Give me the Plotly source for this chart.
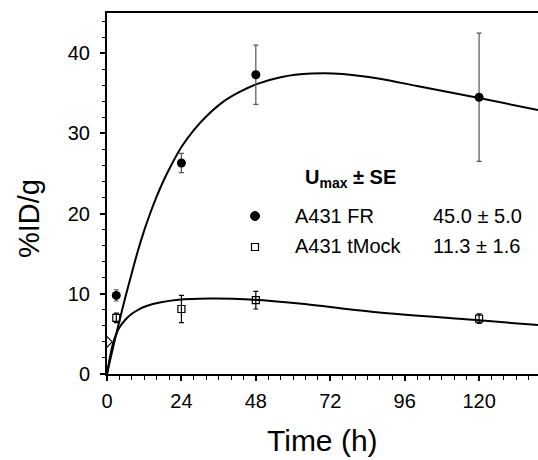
import plotly.graph_objects as go

# ---- data ----
fr_time = [3, 24, 48, 120]
fr_uptake = [9.8, 26.3, 37.3, 34.5]
fr_se = [0.7, 1.2, 3.7, 8.0]

mock_time = [3, 24, 48, 120]
mock_uptake = [7.0, 8.1, 9.2, 6.9]
mock_se = [0.6, 1.7, 1.1, 0.6]

blood_time = [0]
blood_uptake = [4.0]

fr_fit_time = [0, 2, 4, 6, 8, 10, 12, 14, 16, 18, 20, 24, 28, 32, 37, 42, 48, 56, 66, 76, 88, 100, 120, 139]
fr_fit_uptake = [0, 3.4, 6.6, 9.7, 12.6, 15.4, 17.9, 20.1, 22.1, 23.9, 25.5, 28.3, 30.4, 32.1, 33.8,
                 35.0, 36.1, 37.0, 37.45, 37.4, 36.8, 35.9, 34.4, 32.9]

mock_fit_time = [0, 1, 2, 3, 4, 6, 8, 10, 13, 17, 23, 33, 46, 62, 87, 118, 139]
mock_fit_uptake = [0, 2.2, 3.9, 5.0, 5.8, 6.8, 7.5, 8.0, 8.5, 8.9, 9.25, 9.4, 9.3, 8.8, 7.7, 6.75, 6.1]

x_ticks = [0, 24, 48, 72, 96, 120]
y_ticks = [0, 10, 20, 30, 40]

legend_names = ["A431 FR", "A431 tMock"]
legend_values = ["45.0 ± 5.0", "11.3 ± 1.6"]
legend_title = "<b>U<sub>max</sub> ± SE</b>"

FONT = "Liberation Sans, Arial, sans-serif"

# ---- layout geometry ----
W, H = 538, 460
L, R, T, B = 107, 0, 13, 86
PW, PH = W - L - R, H - T - B


def px_x(p):
    return (p - L) / PW


def px_y(p):
    return (H - B - p) / PH


fig = go.Figure()

fig.add_trace(go.Scatter(x=fr_fit_time, y=fr_fit_uptake, mode="lines",
                         line=dict(color="black", width=2, shape="spline", smoothing=0.8),
                         showlegend=False, hoverinfo="skip"))
fig.add_trace(go.Scatter(x=mock_fit_time, y=mock_fit_uptake, mode="lines",
                         line=dict(color="black", width=2, shape="spline", smoothing=0.8),
                         showlegend=False, hoverinfo="skip"))

fig.add_trace(go.Scatter(x=fr_time, y=fr_uptake, mode="markers",
                         marker=dict(symbol="circle", size=9, color="black"),
                         error_y=dict(type="data", array=fr_se, color="#555", thickness=1.2, width=2.5),
                         name=legend_names[0], showlegend=False))
fig.add_trace(go.Scatter(x=mock_time, y=mock_uptake, mode="markers",
                         marker=dict(symbol="square-open", size=7, color="black", line=dict(width=1.2)),
                         error_y=dict(type="data", array=mock_se, color="black", thickness=1.2, width=2.5),
                         name=legend_names[1], showlegend=False))
fig.add_trace(go.Scatter(x=blood_time, y=blood_uptake, mode="markers",
                         marker=dict(symbol="diamond-open", size=8, color="black", line=dict(width=1.2)),
                         showlegend=False))

axis_common = dict(showgrid=False, zeroline=False, showline=True, linecolor="black", linewidth=2,
                   ticks="outside", ticklen=5, tickwidth=1.5, tickcolor="black",
                   tickfont=dict(family=FONT, size=20, color="black"))

fig.update_xaxes(range=[0, 139], tickvals=x_ticks, ticktext=[str(v) for v in x_ticks],
                 mirror=True, ticklabelstandoff=3,
                 minor=dict(dtick=4, tick0=0, ticks="outside", ticklen=4, tickwidth=1.2, tickcolor="black"),
                 **axis_common)
fig.update_yaxes(range=[0, 45], tickvals=y_ticks, ticktext=[str(v) for v in y_ticks],
                 ticklabelstandoff=6,
                 minor=dict(dtick=2, tick0=0, ticks="outside", ticklen=3, tickwidth=1.2, tickcolor="black"),
                 **axis_common)

annotations = [
    dict(text="Time (h)", x=px_x(322), y=px_y(440), font=dict(size=30)),
    dict(text="%ID/g", x=px_x(29), y=px_y(219), font=dict(size=29), textangle=-90),
    dict(text=legend_title, x=px_x(303), y=px_y(178), xanchor="left", font=dict(size=20)),
    dict(text=legend_names[0], x=px_x(293), y=px_y(216), xanchor="left", font=dict(size=20)),
    dict(text=legend_values[0], x=px_x(431), y=px_y(216), xanchor="left", font=dict(size=20)),
    dict(text=legend_names[1], x=px_x(293), y=px_y(246), xanchor="left", font=dict(size=20)),
    dict(text=legend_values[1], x=px_x(431), y=px_y(246), xanchor="left", font=dict(size=20)),
]
for a in annotations:
    a.setdefault("xanchor", "center")
    a.update(xref="paper", yref="paper", yanchor="middle", showarrow=False)
    a["font"] = dict(family=FONT, color="black", **a["font"])

shapes = [
    dict(type="circle", xref="paper", yref="paper", xsizemode="pixel", ysizemode="pixel",
         xanchor=px_x(255), yanchor=px_y(216), x0=-4.5, x1=4.5, y0=-4.5, y1=4.5,
         fillcolor="black", line=dict(color="black", width=1)),
    dict(type="rect", xref="paper", yref="paper", xsizemode="pixel", ysizemode="pixel",
         xanchor=px_x(255), yanchor=px_y(247), x0=-3.5, x1=3.5, y0=-3.5, y1=3.5,
         fillcolor="white", line=dict(color="black", width=1.2)),
]

fig.update_layout(width=W, height=H, margin=dict(l=L, r=R, t=T, b=B),
                  paper_bgcolor="white", plot_bgcolor="white",
                  annotations=annotations, shapes=shapes, showlegend=False,
                  font=dict(family=FONT, color="black"))

fig.write_html("out.html", config={"displayModeBar": False},
               post_script="document.body.style.margin='0';document.body.style.overflow='hidden';")
